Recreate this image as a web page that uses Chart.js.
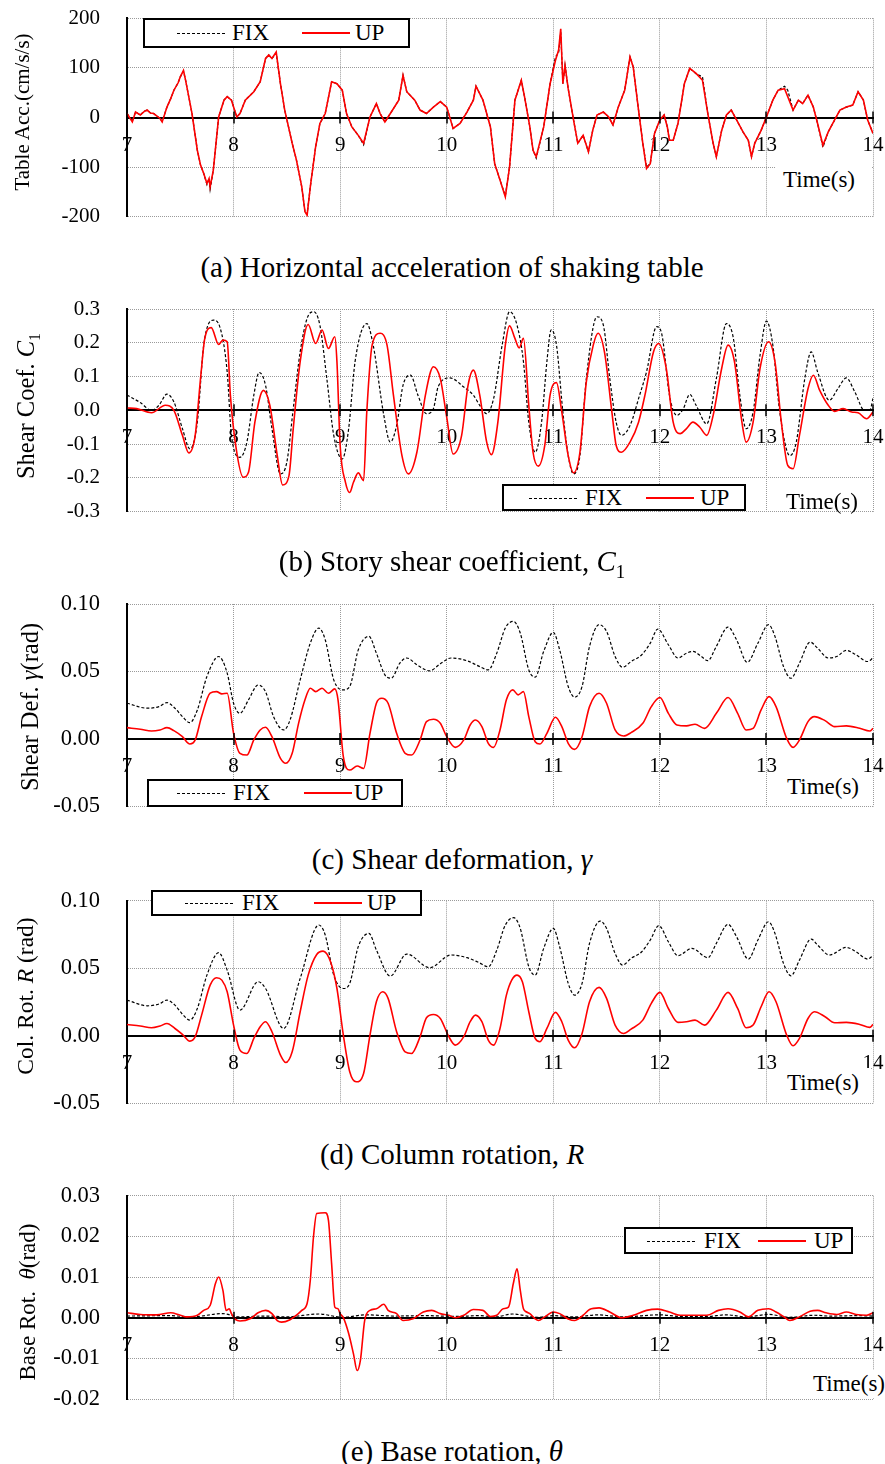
<!DOCTYPE html>
<html>
<head>
<meta charset="utf-8">
<script src="https://cdn.jsdelivr.net/npm/chart.js@4/dist/chart.umd.min.js"></script>
<style>
  body { margin: 0; background: #fff; }
  #page { position: relative; width: 885px; height: 1464px; overflow: hidden;
          font-family: 'Liberation Serif', 'Times New Roman', serif; color: #000; }
  .box { position: absolute; left: 0; width: 885px; }
  .cap { position: absolute; left: 452px; transform: translateX(-50%); white-space: nowrap;
         font-size: 29px; line-height: 29px; }
  .ytl { position: absolute; white-space: nowrap; transform: translate(-50%, -50%) rotate(-90deg); }
  .tl { position: absolute; background: #fff; font-size: 23px; white-space: nowrap; }
  .lg { position: absolute; background: #fff; border: 2px solid #000; box-sizing: border-box; font-size: 23px; }
  .lg span { position: absolute; }
  .lg .dash { width: 48px; border-top: 1px dashed #000; }
  .lg .red { width: 48px; border-top: 2px solid #f00; }
  sub { font-size: 65%; }
</style>
</head>
<body>
<div id="page">
  <div class="box" style="top:0;height:240px"><canvas id="chartA" width="885" height="240"></canvas></div>
  <div class="box" style="top:290px;height:240px"><canvas id="chartB" width="885" height="240"></canvas></div>
  <div class="box" style="top:585px;height:240px"><canvas id="chartC" width="885" height="240"></canvas></div>
  <div class="box" style="top:880px;height:240px"><canvas id="chartD" width="885" height="240"></canvas></div>
  <div class="box" style="top:1175px;height:245px"><canvas id="chartE" width="885" height="245"></canvas></div>

  <div class="ytl" style="left:22px;top:112px;font-size:21px">Table Acc.(cm/s/s)</div>
  <div class="ytl" style="left:28px;top:406px;font-size:24.5px">Shear Coef. <i>C</i><sub>1</sub></div>
  <div class="ytl" style="left:30px;top:707px;font-size:24.5px">Shear Def. <i>γ</i>(rad)</div>
  <div class="ytl" style="left:25px;top:996px;font-size:23.5px">Col. Rot. <i>R</i> (rad)</div>
  <div class="ytl" style="left:28px;top:1302px;font-size:23px">Base Rot.&nbsp; <i>θ</i>(rad)</div>

  <div class="cap" style="top:253px">(a) Horizontal acceleration of shaking table</div>
  <div class="cap" style="top:547px">(b) Story shear coefficient, <i>C</i><sub>1</sub></div>
  <div class="cap" style="top:845px">(c) Shear deformation, <i>γ</i></div>
  <div class="cap" style="top:1140px">(d) Column rotation, <i>R</i></div>
  <div class="cap" style="top:1437px">(e) Base rotation, <i>θ</i></div>
</div>
<script>
// (a) table acceleration, cm/s/s
const accT = [7.00, 7.05, 7.08, 7.125, 7.16, 7.19, 7.22, 7.25, 7.31, 7.33, 7.375, 7.41, 7.44, 7.48, 7.50, 7.53, 7.55, 7.61,
  7.66, 7.69, 7.72, 7.75, 7.77, 7.78, 7.81, 7.86, 7.91, 7.94, 7.98, 8.03, 8.06, 8.11, 8.19, 8.25, 8.30, 8.33, 8.36, 8.40,
  8.44, 8.48, 8.55, 8.59, 8.64, 8.67, 8.69, 8.72, 8.77, 8.81, 8.86, 8.92, 8.97, 9.02, 9.06, 9.11, 9.17, 9.22, 9.28, 9.34,
  9.375, 9.42, 9.48, 9.55, 9.59, 9.625, 9.70, 9.75, 9.81, 9.875, 9.94, 10.00, 10.06, 10.125, 10.19, 10.25, 10.275, 10.34,
  10.41, 10.45, 10.50, 10.55, 10.59, 10.64, 10.70, 10.73, 10.78, 10.81, 10.84, 10.91, 10.97, 11.02, 11.05, 11.07, 11.09,
  11.11, 11.14, 11.19, 11.23, 11.28, 11.33, 11.37, 11.41, 11.47, 11.52, 11.56, 11.61, 11.67, 11.72, 11.75, 11.80, 11.84,
  11.875, 11.91, 11.95, 12.00, 12.04, 12.07, 12.09, 12.125, 12.17, 12.23, 12.28, 12.34, 12.40, 12.45, 12.50, 12.53, 12.58,
  12.625, 12.67, 12.72, 12.78, 12.83, 12.86, 12.89, 12.95, 13.00, 13.06, 13.11, 13.17, 13.20, 13.25, 13.30, 13.34, 13.39,
  13.44, 13.48, 13.53, 13.58, 13.64, 13.69, 13.75, 13.81, 13.86, 13.91, 13.95, 14.00];
const accUp = [8, -9, 11, 5, 12, 15, 9, 8, -2, -9, 21, 38, 55, 70, 82, 95, 75, 8,
  -66, -96, -113, -133, -123, -140, -106, 1, 35, 42, 35, 1, 8, 35, 52, 72, 119, 126, 119, 132,
  68, 15, -52, -86, -140, -190, -197, -140, -59, -12, 8, 72, 68, 55, 8, -19, -36, -52, 1, 28,
  8, -9, 11, 35, 85, 52, 35, 15, 8, 21, 32, 21, -22, -12, 11, 35, 63, 35,
  -19, -93, -126, -160, -99, 35, 75, 42, -19, -66, -79, -19, 68, 115, 136, 179, 68,
  105, 58, -5, -52, -36, -69, -26, 5, 11, 1, -15, 21, 55, 122, 102, 15, -52,
  -103, -93, -32, -5, 5, -19, -46, -46, -12, 68, 99, 89, 75, 8, -52, -79, -26,
  5, 15, -5, -29, -46, -79, -52, -26, 1, 35, 55, 58, 42, 15, 35, 28, 45,
  21, -12, -56, -29, -5, 15, 21, 25, 52, 35, -5, -32];
const accFix = [8, -7, 11, 5, 13, 15, 9, 8, -2, -8, 21, 38, 55, 70, 82, 93, 75, 8,
  -66, -96, -113, -135, -123, -145, -106, 1, 35, 42, 35, 1, 8, 35, 52, 72, 119, 126, 119, 130,
  68, 15, -52, -86, -140, -190, -195, -140, -59, -12, 8, 72, 68, 55, 8, -19, -36, -55, 1, 28,
  8, -9, 11, 35, 85, 52, 35, 15, 8, 21, 32, 21, -22, -12, 11, 35, 63, 35,
  -19, -93, -126, -158, -99, 35, 75, 42, -19, -66, -82, -19, 68, 122, 130, 172, 68,
  105, 58, -5, -52, -36, -69, -26, 5, 11, 1, -15, 21, 55, 122, 102, 15, -52,
  -100, -93, -32, -5, 5, -19, -46, -46, -12, 68, 99, 88, 82, 8, -52, -79, -26,
  5, 15, -5, -29, -46, -79, -52, -26, 1, 35, 55, 63, 55, 15, 35, 28, 45,
  21, -12, -60, -29, -5, 15, 21, 25, 52, 35, -5, -32];

// (b) story shear coefficient C1
const coefFixT = [7.0, 7.125, 7.23, 7.30, 7.375, 7.44, 7.52, 7.59, 7.66, 7.72, 7.81, 7.875, 7.94, 7.98, 8.06, 8.125,
  8.19, 8.24, 8.30, 8.36, 8.44, 8.50, 8.56, 8.625, 8.69, 8.75, 8.81, 8.875, 8.94, 9.02, 9.08, 9.14, 9.25, 9.31, 9.41,
  9.47, 9.53, 9.59, 9.66, 9.73, 9.81, 9.875, 9.92, 10.03, 10.16, 10.25, 10.31, 10.375, 10.44, 10.52, 10.59, 10.66,
  10.72, 10.77, 10.83, 10.89, 10.94, 10.98, 11.03, 11.09, 11.14, 11.19, 11.25, 11.31, 11.41, 11.47, 11.53, 11.59,
  11.64, 11.72, 11.81, 11.875, 11.97, 12.02, 12.09, 12.16, 12.22, 12.28, 12.34, 12.44, 12.53, 12.625, 12.69, 12.75,
  12.81, 12.875, 12.94, 13.0, 13.06, 13.125, 13.22, 13.28, 13.36, 13.42, 13.48, 13.59, 13.67, 13.75, 13.83, 13.92,
  13.97, 14.0];
const coefFix = [0.045, 0.023, 0.0, 0.015, 0.048, 0.025, -0.054, -0.114, -0.035, 0.193, 0.267, 0.243, 0.114, -0.074, -0.139, -0.094,
  0.045, 0.112, 0.074, -0.054, -0.188, -0.153, 0.005, 0.173, 0.272, 0.292, 0.252, 0.094, -0.074, -0.144, -0.054, 0.144, 0.257, 0.193, -0.015,
  -0.094, -0.045, 0.074, 0.104, 0.045, -0.01, 0.005, 0.07, 0.096, 0.069, 0.045, 0.015, -0.01, 0.035, 0.193, 0.292, 0.252,
  0.144, -0.035, -0.124, -0.035, 0.144, 0.238, 0.193, -0.005, -0.134, -0.188, -0.134, 0.094, 0.277, 0.252, 0.094, -0.035,
  -0.074, -0.045, 0.045, 0.114, 0.248, 0.223, 0.045, -0.015, 0.005, 0.047, 0.015, -0.04, 0.094, 0.257, 0.213, 0.045,
  -0.054, -0.005, 0.163, 0.264, 0.193, -0.005, -0.134, -0.094, 0.094, 0.173, 0.114, 0.03, 0.064, 0.096, 0.054, 0.0,
  0.0, 0.035];
const coefUpT = [7.0, 7.09, 7.23, 7.36, 7.44, 7.52, 7.58, 7.64, 7.69, 7.73, 7.79, 7.86, 7.90, 7.94, 7.97, 8.02, 8.09,
  8.14, 8.20, 8.28, 8.34, 8.41, 8.46, 8.52, 8.56, 8.625, 8.70, 8.77, 8.83, 8.89, 8.95, 8.97, 9.0, 9.05, 9.09, 9.125,
  9.17, 9.22, 9.25, 9.30, 9.375, 9.44, 9.5, 9.58, 9.64, 9.72, 9.80, 9.875, 9.94, 10.0, 10.06, 10.14, 10.2, 10.25,
  10.31, 10.375, 10.42, 10.48, 10.55, 10.59, 10.64, 10.68, 10.72, 10.77, 10.81, 10.86, 10.92, 10.97, 11.03, 11.08,
  11.14, 11.19, 11.25, 11.31, 11.375, 11.42, 11.48, 11.55, 11.59, 11.64, 11.72, 11.80, 11.86, 11.94, 11.99, 12.06,
  12.125, 12.19, 12.25, 12.31, 12.375, 12.44, 12.5, 12.58, 12.64, 12.70, 12.77, 12.81, 12.875, 12.94, 13.02, 13.08,
  13.14, 13.20, 13.25, 13.31, 13.39, 13.44, 13.5, 13.58, 13.64, 13.72, 13.80, 13.86, 13.94, 14.0];
const coefUp = [0.007, 0.005, -0.007, 0.015, 0.0, -0.074, -0.126, -0.074, 0.094, 0.213, 0.245, 0.195, 0.208, 0.203, 0.045, -0.104, -0.198,
  -0.183, -0.035, 0.059, 0.015, -0.134, -0.221, -0.193, -0.054, 0.144, 0.254, 0.198, 0.238, 0.183, 0.218, 0.144, -0.104, -0.213, -0.243, -0.213,
  -0.185, -0.208, -0.005, 0.193, 0.228, 0.193, 0.045, -0.134, -0.188, -0.124, 0.045, 0.129, 0.094, -0.02, -0.129, -0.074, 0.074, 0.119,
  0.045, -0.094, -0.131, -0.035, 0.193, 0.25, 0.213, 0.185, 0.213, 0.015, -0.124, -0.165, -0.104, 0.045, 0.082, -0.005,
  -0.134, -0.185, -0.124, 0.084, 0.193, 0.228, 0.173, -0.005, -0.104, -0.124, -0.094, -0.035, 0.045, 0.173, 0.198, 0.124,
  -0.035, -0.069, -0.054, -0.035, -0.05, -0.074, -0.015, 0.124, 0.193, 0.144, -0.035, -0.094, -0.035, 0.124, 0.203, 0.144,
  -0.035, -0.163, -0.173, -0.074, 0.064, 0.104, 0.059, 0.015, -0.003, 0.005, -0.005, -0.007, -0.025, -0.005];

// (c) shear deformation gamma, rad
const gamFixT = [7.0, 7.19, 7.30, 7.375, 7.45, 7.52, 7.59, 7.66, 7.75, 7.86, 7.94, 8.0, 8.06, 8.14, 8.23, 8.30, 8.375,
  8.47, 8.53, 8.625, 8.72, 8.80, 8.86, 8.94, 9.03, 9.09, 9.17, 9.27, 9.34, 9.42, 9.48, 9.56, 9.625, 9.72, 9.84, 9.94,
  10.04, 10.19, 10.30, 10.39, 10.47, 10.55, 10.625, 10.69, 10.77, 10.83, 10.91, 11.0, 11.06, 11.14, 11.20, 11.27, 11.34,
  11.43, 11.5, 11.58, 11.65, 11.73, 11.83, 11.91, 11.98, 12.08, 12.17, 12.25, 12.31, 12.39, 12.45, 12.53, 12.64, 12.72,
  12.82, 12.92, 13.02, 13.08, 13.16, 13.23, 13.31, 13.41, 13.48, 13.58, 13.66, 13.75, 13.84, 13.95, 14.0];
const gamFix = [0.0265, 0.0228, 0.024, 0.027, 0.0228, 0.0166, 0.0121, 0.0215, 0.0463, 0.0611, 0.0488, 0.0265, 0.019, 0.029, 0.040, 0.035, 0.0166,
  0.0067, 0.0141, 0.0438, 0.071, 0.0822, 0.0735, 0.0438, 0.0364, 0.0389, 0.066, 0.076, 0.0636, 0.0475, 0.045, 0.0562, 0.06, 0.055, 0.0505, 0.0557,
  0.06, 0.058, 0.054, 0.0512, 0.0636, 0.0822, 0.0871, 0.0785, 0.0512, 0.0458, 0.0649, 0.079, 0.066, 0.0389, 0.031, 0.0389, 0.0686,
  0.0847, 0.0797, 0.0611, 0.0532, 0.0574, 0.0624, 0.071, 0.0814, 0.0698, 0.06, 0.0636, 0.0649, 0.0611, 0.058, 0.0686, 0.0829, 0.0735,
  0.0568, 0.071, 0.0847, 0.076, 0.0537, 0.045, 0.0562, 0.0718, 0.0673, 0.06, 0.0611, 0.0656, 0.0624, 0.0574, 0.06];
const gamUpT = [7.0, 7.125, 7.23, 7.31, 7.375, 7.44, 7.52, 7.59, 7.64, 7.70, 7.78, 7.84, 7.89, 7.94, 8.0, 8.06, 8.125,
  8.19, 8.25, 8.30, 8.36, 8.44, 8.49, 8.55, 8.61, 8.67, 8.72, 8.77, 8.83, 8.89, 8.95, 8.98, 9.03, 9.09, 9.16, 9.22, 9.28,
  9.34, 9.39, 9.45, 9.53, 9.61, 9.67, 9.75, 9.81, 9.875, 9.94, 10.0, 10.08, 10.16, 10.22, 10.27, 10.33, 10.39, 10.44,
  10.5, 10.56, 10.62, 10.67, 10.72, 10.77, 10.83, 10.875, 10.94, 11.02, 11.08, 11.14, 11.20, 11.27, 11.34, 11.43, 11.5,
  11.58, 11.66, 11.73, 11.84, 11.92, 12.0, 12.08, 12.16, 12.25, 12.33, 12.42, 12.53, 12.64, 12.73, 12.81, 12.875, 12.95,
  13.025, 13.09, 13.19, 13.25, 13.31, 13.39, 13.45, 13.55, 13.64, 13.75, 13.875, 13.97, 14.0];
const gamUp = [0.0084, 0.0072, 0.0059, 0.0067, 0.0084, 0.0062, 0.0017, -0.0037, -0.0007, 0.0166, 0.0339, 0.0351, 0.0334, 0.0339, 0.0042, -0.0106, -0.0119,
  -0.0007, 0.0067, 0.0087, 0.0017, -0.0144, -0.018, -0.0106, 0.0116, 0.029, 0.0376, 0.0351, 0.0376, 0.0339, 0.0371, 0.029, -0.0131, -0.023, -0.02, -0.0218, 0.0042,
  0.0265, 0.0302, 0.0265, 0.0042, -0.0106, -0.0119, -0.0007, 0.0129, 0.0146, 0.0116, 0.0017, -0.0062, -0.0007, 0.0104, 0.0141, 0.0092, -0.0032, -0.0062,
  0.0067, 0.029, 0.0364, 0.0327, 0.0351, 0.0166, -0.002, -0.0037, 0.0042, 0.0161, 0.0092, -0.0032, -0.0077, 0.0017, 0.024, 0.0339, 0.0265,
  0.0067, 0.0022, 0.0047, 0.0116, 0.024, 0.0307, 0.019, 0.0104, 0.0097, 0.0109, 0.0079, 0.019, 0.0307, 0.019, 0.0067, 0.0079, 0.0215,
  0.0314, 0.024, 0.0005, -0.0062, -0.0007, 0.0129, 0.0166, 0.0136, 0.0092, 0.0097, 0.0079, 0.0059, 0.0079];

// (d) column rotation R, rad
const rotFixT = [7.0, 7.19, 7.30, 7.375, 7.45, 7.52, 7.59, 7.66, 7.75, 7.86, 7.94, 8.06, 8.23, 8.30, 8.47, 8.625, 8.80,
  8.86, 8.94, 9.03, 9.09, 9.17, 9.27, 9.34, 9.47, 9.625, 9.84, 10.04, 10.19, 10.30, 10.39, 10.47, 10.55, 10.63, 10.69,
  10.77, 10.83, 10.91, 11.0, 11.06, 11.14, 11.20, 11.27, 11.34, 11.44, 11.5, 11.58, 11.65, 11.73, 11.83, 11.91, 11.99,
  12.08, 12.17, 12.30, 12.45, 12.53, 12.64, 12.72, 12.83, 12.92, 13.02, 13.08, 13.16, 13.23, 13.31, 13.42, 13.48, 13.59,
  13.75, 13.84, 13.95, 14.0];
const rotFix = [0.0264, 0.0222, 0.0235, 0.0264, 0.0227, 0.016, 0.0116, 0.0202, 0.0449, 0.0615, 0.0486, 0.019, 0.04, 0.035, 0.0054, 0.0425, 0.082,
  0.0746, 0.0449, 0.035, 0.0388, 0.066, 0.0758, 0.0635, 0.0442, 0.0605, 0.0504, 0.0598, 0.0578, 0.0543, 0.0511, 0.0635, 0.082, 0.0874, 0.0795,
  0.0511, 0.0449, 0.0647, 0.0795, 0.0659, 0.0388, 0.0301, 0.0388, 0.0684, 0.0849, 0.0795, 0.061, 0.0523, 0.0573, 0.0622, 0.0709, 0.0815,
  0.0696, 0.0593, 0.0647, 0.0578, 0.0684, 0.0825, 0.0733, 0.0568, 0.0709, 0.0844, 0.0758, 0.0536, 0.0444, 0.056, 0.0716, 0.0672, 0.0598,
  0.0654, 0.0622, 0.0568, 0.0593];
const rotUpT = [7.0, 7.125, 7.23, 7.31, 7.375, 7.45, 7.52, 7.59, 7.64, 7.70, 7.78, 7.84, 7.89, 7.94, 8.0, 8.06, 8.125,
  8.19, 8.25, 8.30, 8.36, 8.44, 8.49, 8.55, 8.625, 8.70, 8.78, 8.84, 8.91, 8.97, 9.03, 9.09, 9.15, 9.22, 9.28, 9.34,
  9.40, 9.45, 9.53, 9.61, 9.67, 9.75, 9.81, 9.875, 9.94, 10.02, 10.08, 10.16, 10.22, 10.27, 10.33, 10.39, 10.44, 10.5,
  10.56, 10.61, 10.66, 10.71, 10.77, 10.83, 10.875, 10.94, 11.02, 11.08, 11.14, 11.20, 11.27, 11.34, 11.43, 11.5, 11.58,
  11.66, 11.73, 11.84, 11.92, 12.0, 12.08, 12.17, 12.25, 12.33, 12.42, 12.53, 12.64, 12.73, 12.81, 12.875, 12.95,
  13.025, 13.09, 13.19, 13.25, 13.31, 13.39, 13.45, 13.55, 13.64, 13.75, 13.875, 13.97, 14.0];
const rotUp = [0.0084, 0.0072, 0.0059, 0.0072, 0.0091, 0.0054, 0.001, -0.004, -0.0007, 0.0153, 0.0375, 0.043, 0.0412, 0.0326, 0.0079, -0.0106, -0.0131,
  -0.002, 0.0067, 0.0104, 0.003, -0.0143, -0.0198, -0.0119, 0.0178, 0.0449, 0.0602, 0.0627, 0.0548, 0.035, 0.0005, -0.0267, -0.0341, -0.0279, 0.0005, 0.0252,
  0.0326, 0.0277, 0.003, -0.0119, -0.0131, -0.0007, 0.0133, 0.0158, 0.0128, -0.0007, -0.0069, -0.0007, 0.0104, 0.0153, 0.0104, -0.0032, -0.0069, 0.0054,
  0.0301, 0.0412, 0.0449, 0.04, 0.0178, -0.002, -0.0044, 0.0054, 0.0173, 0.0104, -0.0032, -0.0089, 0.0017, 0.0252, 0.0358, 0.0277, 0.0079,
  0.0017, 0.0049, 0.0116, 0.024, 0.0321, 0.0202, 0.0099, 0.0104, 0.0116, 0.0079, 0.019, 0.0321, 0.0202, 0.0059, 0.0079, 0.0215,
  0.0326, 0.0252, 0.0005, -0.0074, -0.002, 0.0128, 0.0178, 0.0141, 0.0096, 0.0099, 0.0084, 0.0062, 0.0084];

// (e) base rotation theta, rad
const baseFixT = [7.0, 7.4, 7.6, 7.9, 8.05, 8.3, 8.5, 8.8, 9.02, 9.25, 9.5, 9.8, 10.1, 10.3, 10.45, 10.62, 10.85, 11.0,
  11.2, 11.42, 11.65, 12.0, 12.2, 12.45, 12.62, 12.82, 13.02, 13.22, 13.45, 13.6, 13.85, 14.0];
const baseFix = [0.0004, 0.0005, 0.0002, 0.001, 0.0002, 0.0004, 0.0002, 0.0009, 0.0001, 0.0007, 0.0004, 0.0005, 0.0003, 0.0005, 0.0002, 0.0009, 0.0001, 0.0005,
  0.0002, 0.0007, 0.0002, 0.0007, 0.0003, 0.0003, 0.0007, 0.0002, 0.0008, 0.0001, 0.0006, 0.0004, 0.0005, 0.0004];
const baseUpT = [7.0, 7.125, 7.28, 7.41, 7.5, 7.56, 7.66, 7.72, 7.78, 7.83, 7.86, 7.90, 7.93, 7.96, 7.98, 8.02, 8.06, 8.16,
  8.23, 8.30, 8.36, 8.41, 8.45, 8.53, 8.59, 8.64, 8.69, 8.72, 8.75, 8.78, 8.86, 8.89, 8.92, 8.95, 8.98, 9.0, 9.03, 9.08,
  9.125, 9.16, 9.19, 9.23, 9.28, 9.34, 9.41, 9.45, 9.53, 9.59, 9.69, 9.78, 9.86, 9.94, 10.02, 10.08, 10.16, 10.25, 10.34,
  10.41, 10.47, 10.53, 10.58, 10.625, 10.66, 10.69, 10.72, 10.75, 10.78, 10.83, 10.86, 10.92, 11.0, 11.06, 11.14, 11.20,
  11.28, 11.34, 11.43, 11.53, 11.64, 11.75, 11.875, 11.98, 12.09, 12.19, 12.31, 12.44, 12.55, 12.64, 12.75, 12.83, 12.92,
  13.02, 13.09, 13.16, 13.22, 13.31, 13.41, 13.48, 13.56, 13.66, 13.75, 13.84, 13.94, 14.0];
const baseUp = [0.0012, 0.0008, 0.0007, 0.0012, 0.0006, 0.0002, 0.0006, 0.0018, 0.003, 0.0084, 0.01, 0.0067, 0.0018, 0.0022, 0.001, -0.0005, -0.0008, -0.0002,
  0.0012, 0.0018, 0.001, -0.0007, -0.0011, -0.0005, 0.0006, 0.0018, 0.0035, 0.0092, 0.0199, 0.0256, 0.0258, 0.024, 0.0133, 0.0026, 0.0022, 0.001, 0.0, -0.0039,
  -0.0089, -0.013, -0.0105, -0.0007, 0.0018, 0.0022, 0.0033, 0.0018, 0.001, -0.0007, -0.0002, 0.0014, 0.0018, 0.001, 0.0006, 0.0, 0.0006, 0.002, 0.0018,
  0.0003, 0.0006, 0.0022, 0.0026, 0.0084, 0.012, 0.0068, 0.0022, 0.0014, 0.001, -0.0003, -0.0007, 0.0002, 0.0014, 0.001, -0.0003, -0.0007,
  0.0006, 0.002, 0.0024, 0.0014, 0.0, 0.0006, 0.0018, 0.0021, 0.0014, 0.0006, 0.0006, 0.0006, 0.0018, 0.0022, 0.0014, 0.0002, 0.0018,
  0.0022, 0.0014, 0.0003, -0.0007, 0.0002, 0.0016, 0.0018, 0.0012, 0.0008, 0.0014, 0.0008, 0.0006, 0.0012];

Chart.defaults.font.family = "'Liberation Serif', 'Times New Roman', serif";
Chart.defaults.font.size = 21;
Chart.defaults.color = '#000';

function pts(t, v) {
  return t.map((x, i) => ({ x: x, y: v[i] }));
}

// short tick marks crossing the zero line
const zeroTicks = {
  id: 'zeroTicks',
  afterDatasetsDraw(chart) {
    const { ctx, scales: { x, y } } = chart;
    const y0 = y.getPixelForValue(0);
    ctx.save();
    ctx.strokeStyle = '#000';
    ctx.lineWidth = 1.5;
    x.ticks.forEach(t => {
      const px = Math.round(x.getPixelForValue(t.value));
      ctx.beginPath();
      ctx.moveTo(px, y0 - 6);
      ctx.lineTo(px, y0 + 6);
      ctx.stroke();
    });
    ctx.restore();
  }
};

function makeChart(id, o) {
  return new Chart(document.getElementById(id), {
    type: 'line',
    data: {
      datasets: [{
        label: 'UP',
        data: pts(o.upT, o.up),
        borderColor: '#ff0000',
        borderWidth: 1.6,
        order: 1
      }, {
        label: 'FIX',
        data: pts(o.fixT, o.fix),
        borderColor: '#000',
        borderWidth: 1.2,
        borderDash: [3, 2],
        order: 2
      }]
    },
    options: {
      responsive: false,
      animation: false,
      devicePixelRatio: 1,
      elements: {
        point: { radius: 0 },
        line: o.smooth ? { tension: 0.4, cubicInterpolationMode: 'monotone' } : { tension: 0 }
      },
      layout: { padding: { left: 0, right: 12, top: o.padTop, bottom: o.padBottom } },
      plugins: { legend: { display: false }, tooltip: { enabled: false } },
      scales: {
        x: {
          type: 'linear',
          position: { y: 0 },
          min: 7,
          max: 14,
          afterFit: s => { s.height = 0; s.paddingLeft = 0; s.paddingRight = 0; },
          ticks: { stepSize: 1, autoSkip: false, maxRotation: 0, padding: 15, callback: v => v },
          grid: { color: '#9a9a9a', drawTicks: false },
          border: { color: '#000', width: 2, dash: [1, 1] }
        },
        y: {
          min: o.min,
          max: o.max,
          afterFit: s => { s.width = 127; s.paddingTop = 0; s.paddingBottom = 0; },
          ticks: { stepSize: o.step, padding: 27, font: { size: o.tickSize }, callback: o.fmt },
          grid: { color: '#9a9a9a', drawTicks: false },
          border: { color: '#000', width: 2, dash: [1, 1] }
        }
      }
    },
    plugins: [zeroTicks]
  });
}

makeChart('chartA', { fixT: accT, fix: accFix, upT: accT, up: accUp, smooth: false,
  min: -200, max: 200, step: 100, tickSize: 21, fmt: v => Math.round(v), padTop: 18.3, padBottom: 23.3 });
makeChart('chartB', { fixT: coefFixT, fix: coefFix, upT: coefUpT, up: coefUp, smooth: true,
  min: -0.3, max: 0.3, step: 0.1, tickSize: 21, fmt: v => v.toFixed(1), padTop: 19, padBottom: 18.3 });
makeChart('chartC', { fixT: gamFixT, fix: gamFix, upT: gamUpT, up: gamUp, smooth: true,
  min: -0.05, max: 0.10, step: 0.05, tickSize: 22.5, fmt: v => v.toFixed(2), padTop: 19, padBottom: 18.5 });
makeChart('chartD', { fixT: rotFixT, fix: rotFix, upT: rotUpT, up: rotUp, smooth: true,
  min: -0.05, max: 0.10, step: 0.05, tickSize: 22.5, fmt: v => v.toFixed(2), padTop: 20.7, padBottom: 16.7 });
makeChart('chartE', { fixT: baseFixT, fix: baseFix, upT: baseUpT, up: baseUp, smooth: true,
  min: -0.02, max: 0.03, step: 0.01, tickSize: 22.5, fmt: v => v.toFixed(2), padTop: 20.7, padBottom: 21 });

// legends: box left, top, width, height, then offsets of dashed line, FIX, red line, UP
function legend(l, t, w, h, d, f, r, u) {
  const el = document.createElement('div');
  el.className = 'lg';
  el.style.cssText = `left:${l}px;top:${t}px;width:${w}px;height:${h}px;line-height:${h - 4}px`;
  const mid = Math.round((h - 4) / 2);
  el.innerHTML = `<span class="dash" style="left:${d}px;top:${mid}px"></span>` +
    `<span style="left:${f}px;top:0">FIX</span>` +
    `<span class="red" style="left:${r}px;top:${mid - 1}px"></span>` +
    `<span style="left:${u}px;top:0">UP</span>`;
  document.getElementById('page').appendChild(el);
}
legend(143, 18, 267, 30, 32, 87, 157, 210);
legend(502, 484, 244, 27, 25, 81, 142, 196);
legend(147, 779, 256, 28, 28, 84, 155, 205);
legend(151, 890, 271, 26, 32, 89, 161, 214);
legend(624, 1227, 229, 27, 21, 78, 132, 188);

// "Time(s)" labels on a white patch
function timeLabel(l, t, w, h) {
  const el = document.createElement('div');
  el.className = 'tl';
  el.style.cssText = `left:${l}px;top:${t}px;width:${w}px;height:${h}px;line-height:${h}px;padding-left:7px;box-sizing:border-box`;
  el.textContent = 'Time(s)';
  document.getElementById('page').appendChild(el);
}
timeLabel(776, 165, 95, 30);
timeLabel(779, 492, 92, 19);
timeLabel(780, 772, 91, 30);
timeLabel(780, 1068, 91, 30);
timeLabel(806, 1370, 79, 28);
</script>
</body>
</html>
